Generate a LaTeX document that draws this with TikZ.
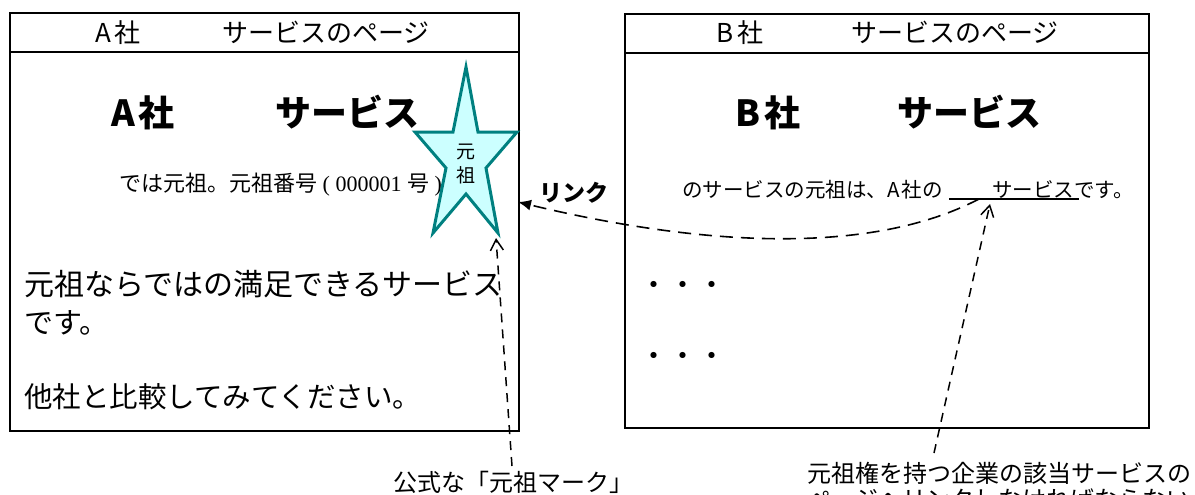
\documentclass[tikz,border=0pt]{standalone}
\usepackage{fontspec}
\setmainfont{Noto Sans CJK JP}
\newfontfamily\serifdigits{Liberation Serif}
\usetikzlibrary{arrows.meta}
\newcommand{\fsz}[1]{\fontsize{#1pt}{#1pt}\selectfont}
\begin{document}
\begin{tikzpicture}[x=1pt,y=-1pt,
  pagebox/.style={draw=black,line width=1.8pt,inner sep=0pt,anchor=north west},
  rule/.style={draw=black,line width=1.8pt},
  txt/.style={inner sep=0pt,text=black},
  starshape/.style={draw={rgb,255:red,0;green,128;blue,128},line width=3pt,fill={rgb,255:red,204;green,255;blue,255},line join=miter},
  linkarrow/.style={line width=1.6pt,dash pattern=on 13pt off 8pt,-{Latex[length=13pt,width=11pt]}},
  pointer/.style={line width=1.5pt,dash pattern=on 9pt off 7pt,-{Straight Barb[length=11pt,width=13pt,line width=1.5pt]}}
]
\useasboundingbox (0,0) rectangle (1195,495);

% page boxes
\node[pagebox,minimum width=509pt,minimum height=418pt] (boxA) at (9,12) {};
\node[pagebox,minimum width=524pt,minimum height=414pt] (boxB) at (624,13) {};
\draw[rule] (boxA.west |- 0,52) -- (boxA.east |- 0,52);
\draw[rule] (boxB.west |- 0,53) -- (boxB.east |- 0,53);

% headers
\node[txt,anchor=base] (hA1) at (118,43) {\fsz{26}A\hspace{3pt}社};
\node[txt,anchor=base] (hA2) at (326,43) {\fsz{26}サービスのページ};
\node[txt,anchor=base] (hB1) at (740,43) {\fsz{26}B\hspace{3pt}社};
\node[txt,anchor=base] (hB2) at (955,43) {\fsz{26}サービスのページ};

% bold titles
\node[txt,anchor=base] (tA1) at (143,126) {\fsz{36}\bfseries A\hspace{4pt}社};
\node[txt,anchor=base] (tA2) at (347,126) {\fsz{36}\bfseries サービス};
\node[txt,anchor=base] (tB1) at (768,127) {\fsz{36}\bfseries B\hspace{4pt}社};
\node[txt,anchor=base] (tB2) at (969,127) {\fsz{36}\bfseries サービス};

% A page body
\node[txt,anchor=base west] (aline) at (119,191) {\fsz{22}では元祖。元祖番号{\serifdigits\ ( 000001 }号{\serifdigits\ )}};
\node[txt,anchor=base west] (a1) at (24,295) {\fsz{30}元祖ならではの満足できるサービス};
\node[txt,anchor=base west] (a2) at (24,333) {\fsz{29}です。};
\node[txt,anchor=base west] (a3) at (24,407) {\fsz{28.5}他社と比較してみてください。};

% star mark
\draw[starshape] (466,67) -- (478,132) -- (517,132) -- (486,168) -- (498,233)
  -- (466,194) -- (433,233) -- (446,168) -- (415,132) -- (453,132) -- cycle;
\node[txt,anchor=base] (s1) at (466,158) {\fsz{19}元};
\node[txt,anchor=base] (s2) at (466,182) {\fsz{19}祖};

% B page body
\node[txt,anchor=base west] (b1) at (682,197) {\fsz{20.5}のサービスの元祖は、A\hspace{2pt}社の};
\node[txt,anchor=base west] (b2) at (992,197) {\fsz{20.5}サービスです。};
\coordinate (ulL) at (949,199);
\coordinate (ulR) at (1079,199);
\draw[line width=1.6pt] (ulL) -- (ulR);
\node[txt,anchor=base] (d1) at (683,295) {\fsz{29}・・・};
\node[txt,anchor=base] (d2) at (683,366) {\fsz{29}・・・};

% link arrow
\node[txt,anchor=base] (lnk) at (574,201) {\fsz{23}\bfseries リンク};
\coordinate (lkS) at (979,199);
\coordinate (lkE) at (518,202);
\draw[linkarrow] (lkS) .. controls (870,256) and (700,246) .. (lkE);

% labels below
\node[txt,anchor=base west] (lblA) at (393,491) {\fsz{24}公式な「元祖マーク」};
\node[txt,anchor=base west] (lblB) at (807,482) {\fsz{24}元祖権を持つ企業の該当サービスの};
\node[txt,anchor=base west] (lblB2) at (807,508) {\fsz{24}ページへリンクしなければならない};
\coordinate (pA) at (512,466);
\coordinate (pAt) at (496,238);
\coordinate (pB) at (934,453);
\coordinate (pBt) at (990,204);
\draw[pointer] (pA) -- (pAt);
\draw[pointer] (pB) -- (pBt);
\end{tikzpicture}
\end{document}
